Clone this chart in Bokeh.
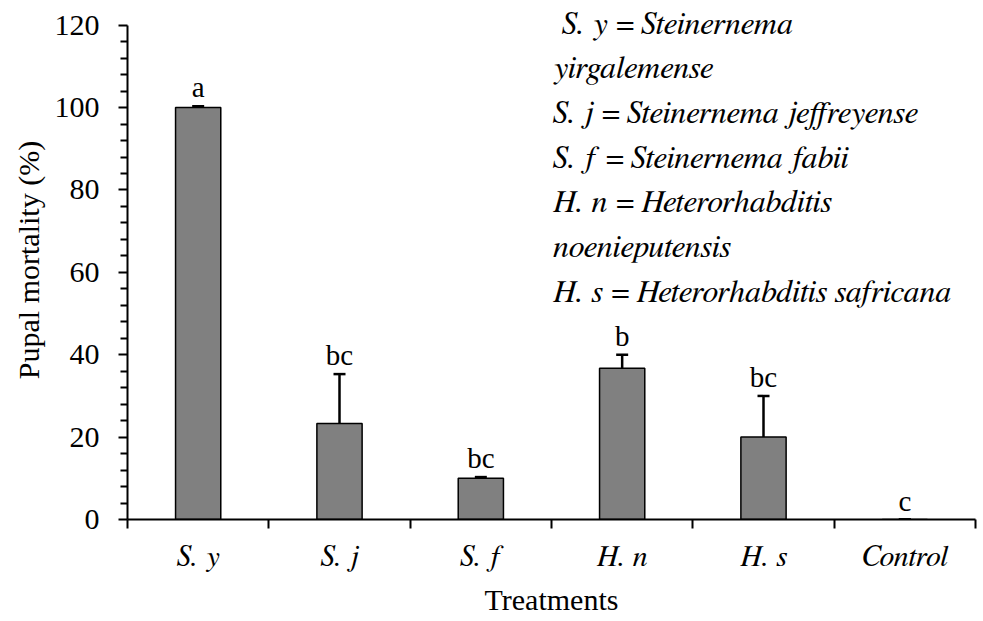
from bokeh.plotting import figure
from bokeh.models import ColumnDataSource, FixedTicker, Whisker, TeeHead, Label, Range1d
from bokeh.embed import file_html
from bokeh.resources import INLINE
from bokeh.core.properties import value

categories = ["S. y", "S. j", "S. f", "H. n", "H. s", "Control"]
mortality = [100.0, 23.3, 10.0, 36.7, 20.0, 0.0]
errors = [0.3, 12.0, 0.3, 3.3, 10.0, 0.0]
letters = ["a", "bc", "bc", "b", "bc", "c"]
y_ticks = [0, 20, 40, 60, 80, 100, 120]
y_minor = [v for v in range(0, 121, 4) if v % 20 != 0]
legend_lines = [
    "S. y = Steinernema",
    "yirgalemense",
    "S. j = Steinernema jeffreyense",
    "S. f = Steinernema fabii",
    "H. n = Heterorhabditis",
    "noenieputensis",
    "H. s = Heterorhabditis safricana",
]

FONT = "Liberation Serif"
IFONT = "FreeSerif"
n = len(categories)
xs = [i + 0.5 for i in range(n)]
src = ColumnDataSource(dict(
    x=xs, top=mortality,
    upper=[m + e for m, e in zip(mortality, errors)],
    lower=[m - e for m, e in zip(mortality, errors)],
    letters=letters,
))

p = figure(width=980, height=620, x_range=Range1d(0, n), y_range=Range1d(0, 126),
           output_backend="svg", toolbar_location=None,
           min_border_left=127, min_border_right=5, min_border_top=0, min_border_bottom=101)
p.outline_line_color = None
p.xgrid.visible = False
p.ygrid.visible = False
p.background_fill_color = "white"
p.border_fill_color = "white"

p.vbar(x="x", top="top", bottom=0, width=0.32, source=src,
       fill_color="#808080", line_color="black", line_width=1.5)

w = Whisker(base="x", upper="upper", lower="lower", source=src,
            line_color="black", line_width=2.5,
            upper_head=TeeHead(size=12, line_width=2.5, line_color="black"),
            lower_head=TeeHead(size=12, line_width=2.5, line_color="black"))
p.add_layout(w)

p.text(x="x", y="upper", text="letters", source=src, text_align="center",
       text_baseline="alphabetic", y_offset=-19,
       text_font=value(FONT), text_font_size="29px", text_color="black")

# x axis
xa = p.xaxis[0]
xa.ticker = FixedTicker(ticks=xs, minor_ticks=list(range(n + 1)))
xa.major_label_overrides = {x: c for x, c in zip(xs, categories)}
xa.major_tick_out = 0
xa.major_tick_in = 0
xa.minor_tick_out = 9
xa.minor_tick_in = 0
xa.minor_tick_line_width = 2
xa.minor_tick_line_color = "black"
xa.axis_line_width = 2
xa.axis_line_color = "black"
xa.major_label_text_font = IFONT
xa.major_label_text_font_style = "italic"
xa.major_label_text_font_size = "30px"
xa.major_label_text_color = "black"
xa.major_label_standoff = 13
xa.axis_label = "Treatments"
xa.axis_label_text_font = FONT
xa.axis_label_text_font_style = "normal"
xa.axis_label_text_font_size = "30px"
xa.axis_label_text_color = "black"
xa.axis_label_standoff = 8

ya = p.yaxis[0]
ya.bounds = (0, 120)
ya.ticker = FixedTicker(ticks=y_ticks, minor_ticks=y_minor)
ya.major_tick_out = 9
ya.major_tick_in = 0
ya.minor_tick_out = 7
ya.minor_tick_in = 0
ya.major_tick_line_width = 2
ya.minor_tick_line_width = 2
ya.axis_line_width = 2
ya.axis_line_color = "black"
ya.major_label_text_font = FONT
ya.major_label_text_font_size = "30px"
ya.major_label_text_color = "black"
ya.major_label_standoff = 19
ya.axis_label = "Pupal mortality (%)"
ya.axis_label_text_font = FONT
ya.axis_label_text_font_style = "normal"
ya.axis_label_text_font_size = "30px"
ya.axis_label_text_color = "black"
ya.axis_label_standoff = 7

# legend text block
for i, line in enumerate(legend_lines):
    p.add_layout(Label(x=3.01, y=120.4 - 10.85 * i, text=line,
                       x_offset=9 if i == 0 else 0,
                       text_font=IFONT, text_font_style="italic",
                       text_font_size="32px", text_color="black",
                       text_baseline="alphabetic", text_align="left"))

open("out.html", "w").write(file_html(p, INLINE))
